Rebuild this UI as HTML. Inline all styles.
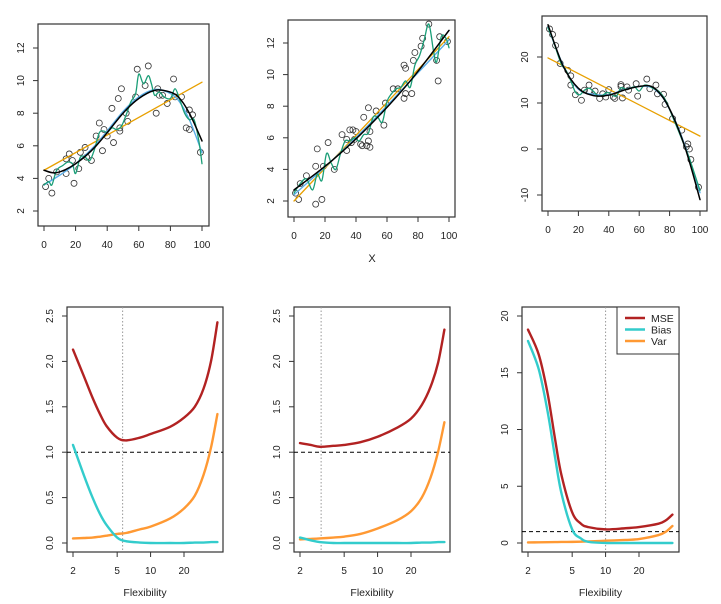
<!DOCTYPE html>
<html><head><meta charset="utf-8">
<style>
html,body{margin:0;padding:0;background:#fff;}
svg{display:block;font-family:"Liberation Sans",sans-serif;}
</style></head>
<body>
<svg id="fig" width="721" height="604" viewBox="0 0 721 604" xmlns="http://www.w3.org/2000/svg"></svg>
<script>
// ---------- Data: top row scatter panels ----------
const p1PointsX = [1,3,5,8,14,14,16,18,19,22,23,26,27,30,33,35,37,38,40,43,44,47,49,48,48,52,53,58,59,64,66,71,72,73,75,78,82,83,87,90,92,92,94,99];
const p1PointsY = [3.5,4.0,3.1,4.4,4.3,5.2,5.5,5.1,3.7,4.6,5.6,5.9,5.3,5.1,6.6,7.4,5.7,7.0,6.6,8.3,6.2,8.9,9.5,6.9,7.1,8.0,7.5,9.0,10.7,9.7,10.9,8.0,9.5,9.1,9.1,8.6,10.1,9.0,9.0,7.1,7.0,8.2,7.9,5.6];
const p1LinX = [0,100], p1LinY = [4.5,9.9];
const p1TrueX = [0,8,20,33,50,60,70,78,85,92,100];
const p1TrueY = [4.5,4.35,4.9,6.0,8.0,8.9,9.4,9.35,9.0,8.0,6.3];
const p1SmoothX = [0,10,20,33,50,60,70,78,85,92,100];
const p1SmoothY = [3.6,4.2,4.9,6.1,8.1,9.0,9.45,9.3,8.8,7.6,5.6];
const p1WigX = [0,3,5,8,12,15,18,20,23,26,29,32,35,38,40,43,46,49,52,55,58,60,63,66,68,70,73,76,80,83,86,89,92,95,98,100];
const p1WigY = [3.6,3.8,3.6,4.5,4.8,5.0,4.9,4.3,5.3,5.3,5.1,5.8,6.8,6.9,6.8,7.1,7.0,7.2,7.9,8.7,9.2,10.4,9.8,10.3,9.8,9.1,9.3,9.0,8.9,9.5,8.8,8.0,7.6,7.6,6.3,4.9];

const p2PointsX = [1,3,4,8,14,14,15,18,19,22,26,31,34,34,36,37,38,40,39,43,44,45,47,48,48,49,49,53,58,59,64,67,71,71,72,72,76,77,78,82,83,87,92,93,94,99];
const p2PointsY = [2.5,2.1,3.1,3.6,1.8,4.2,5.3,2.1,4.2,5.7,4.0,6.2,5.2,5.9,6.5,5.7,6.5,6.4,5.9,5.6,5.5,7.3,5.5,5.8,7.9,5.4,6.4,7.7,6.8,8.2,9.1,9.1,8.5,10.6,10.4,8.8,8.8,10.9,11.4,11.8,12.3,13.2,10.9,9.6,12.4,12.1];
const p2LinX = [0,100], p2LinY = [2.0,12.4];
const p2TrueX = [0,25,50,75,100], p2TrueY = [2.7,4.6,6.9,9.6,12.8];
const p2SmoothX = [0,25,50,75,100], p2SmoothY = [2.4,4.6,7.0,9.6,12.2];
const p2WigX = [0,4,8,12,15,18,21,24,27,30,33,36,39,42,45,48,51,54,57,60,63,66,69,72,75,78,81,84,87,90,92,95,98,100];
const p2WigY = [2.5,3.1,3.4,2.7,3.7,3.3,5.0,4.4,4.0,5.0,5.8,5.8,6.0,5.8,6.2,6.3,7.3,7.3,7.0,8.3,8.8,9.1,9.2,9.6,9.2,10.6,11.2,12.2,13.2,11.5,10.8,12.4,12.3,11.7];

const p3PointsX = [1,3,5,8,13,15,15,18,22,24,27,27,31,34,36,38,40,43,44,48,48,49,52,53,58,59,65,67,71,72,76,77,82,88,91,92,93,94,99];
const p3PointsY = [26.1,24.9,22.5,18.6,17.1,15.9,13.9,11.8,10.6,12.8,13.9,12.6,12.6,11.0,12.0,11.3,12.9,11.3,11.0,14.0,13.6,11.1,13.5,12.8,14.2,11.5,15.2,13.1,13.9,12.0,11.9,9.7,6.6,4.1,0.5,1.1,0.0,-2.3,-8.3];
const p3LinX = [0,100], p3LinY = [19.8,2.8];
const p3TrueX = [0,10,20,30,40,50,60,68,75,80,85,90,95,100];
const p3TrueY = [27,18,13.2,11.6,11.7,12.8,13.6,13.6,11.5,8.7,5,0.5,-5,-11];
const p3SmoothX = [0,10,20,30,40,50,60,68,75,80,85,90,95,100];
const p3SmoothY = [26.5,18.2,13.0,11.9,11.8,12.9,13.6,13.4,11.4,8.6,5.2,0.8,-4.2,-9.5];
const p3WigX = [0,3,6,9,12,15,18,21,24,27,30,33,36,39,42,45,48,51,54,57,60,63,66,69,72,75,78,82,86,90,93,96,100];
const p3WigY = [26.3,24,21,18.3,17,14.8,12.4,11.8,12.8,13.2,12.5,11.5,11.7,12.3,11.8,11.5,13.3,13.0,13.2,13.5,12.6,13.8,13.8,13.2,12.8,11.8,10.2,7,3.8,0.5,-2,-5,-9];

// ---------- Data: bottom row MSE / bias / variance ----------
const p4Flex = [2,2.5,3,3.5,4,5,6,8,10,15,20,25,30,35,40];
const p4Mse  = [2.13,1.84,1.6,1.42,1.29,1.16,1.13,1.16,1.2,1.28,1.38,1.5,1.7,2.0,2.43];
const p4Bias = [1.08,0.75,0.5,0.32,0.2,0.06,0.02,0.005,0,0,0,0.005,0.005,0.01,0.01];
const p4Var  = [0.05,0.055,0.06,0.07,0.08,0.1,0.11,0.15,0.18,0.27,0.38,0.52,0.75,1.05,1.42];
const p4Opt = 5.6;

const p5Flex = [2,2.5,3,4,5,7,10,15,20,25,30,35,40];
const p5Mse  = [1.10,1.08,1.06,1.07,1.08,1.11,1.17,1.27,1.37,1.52,1.72,1.98,2.35];
const p5Bias = [0.06,0.03,0.01,0,0,0,0,0,0,0.005,0.005,0.01,0.01];
const p5Var  = [0.04,0.045,0.05,0.06,0.07,0.1,0.16,0.25,0.35,0.5,0.72,1.0,1.33];
const p5Opt = 3.1;

const p6Flex = [2,2.5,3,3.5,4,5,6,7,10,15,20,30,35,40];
const p6Mse  = [18.8,16.6,13.2,9.2,6.0,2.7,1.7,1.4,1.2,1.3,1.4,1.7,2.0,2.5];
const p6Bias = [17.8,15.3,11.6,7.6,4.4,1.2,0.4,0.1,0,0,0,0,0,0];
const p6Var  = [0.05,0.06,0.07,0.08,0.09,0.1,0.12,0.14,0.2,0.27,0.35,0.7,1.0,1.5];
const p6Opt = 10;

const topXTicks = [0,20,40,60,80,100];
const p1YTicks = [2,4,6,8,10,12];
const p2YTicks = [2,4,6,8,10,12];
const p3YTicks = [-10,0,10,20];
const flexTicks = [2,5,10,20];
const p45YTicks = [0,0.5,1,1.5,2,2.5];
const p45YLabels = ["0.0","0.5","1.0","1.5","2.0","2.5"];
const p6YTicks = [0,5,10,15,20];
const legendLabels = ["MSE","Bias","Var"];

// ---------- Rendering ----------
const NS = "http://www.w3.org/2000/svg";
const svg = document.getElementById('fig');
function mk(tag, attrs, parent){
  const e = document.createElementNS(NS, tag);
  for (const k in attrs) e.setAttribute(k, attrs[k]);
  (parent||svg).appendChild(e);
  return e;
}
function lin(d0,p0,d1,p1){ return v => p0 + (v-d0)*(p1-p0)/(d1-d0); }
function logx(p2){ return v => p2 + 111*Math.log10(v/2); }
function crPath(pts){
  let d = "M"+pts[0][0].toFixed(2)+","+pts[0][1].toFixed(2);
  for (let i=0;i<pts.length-1;i++){
    const p0=pts[Math.max(0,i-1)], p1=pts[i], p2=pts[i+1], p3=pts[Math.min(pts.length-1,i+2)];
    const c1=[p1[0]+(p2[0]-p0[0])/6, p1[1]+(p2[1]-p0[1])/6];
    const c2=[p2[0]-(p3[0]-p1[0])/6, p2[1]-(p3[1]-p1[1])/6];
    d += " C"+c1[0].toFixed(2)+","+c1[1].toFixed(2)+" "+c2[0].toFixed(2)+","+c2[1].toFixed(2)+" "+p2[0].toFixed(2)+","+p2[1].toFixed(2);
  }
  return d;
}
function drawCurve(g, xs, ys, sx, sy, color, w, name){
  const pts = xs.map((x,i)=>[sx(x), sy(ys[i])]);
  const p = mk('path',{d:crPath(pts),fill:'none',stroke:color,'stroke-width':w,'stroke-linecap':'round'},g);
  
  
}
function axes(g, box, sx, sy, xt, xl, yt, yl, pname){
  const fr = mk('rect',{x:box[0],y:box[1],width:box[2]-box[0],height:box[3]-box[1],fill:'none',stroke:'#333','stroke-width':1.2},g);
  
  
  const xa = mk('g',{},g);
  
  
  mk('line',{x1:sx(xt[0]),x2:sx(xt[xt.length-1]),y1:box[3],y2:box[3],stroke:'#333'},xa);
  xt.forEach((t,i)=>{
    const x=sx(t);
    mk('line',{x1:x,x2:x,y1:box[3],y2:box[3]+5,stroke:'#333'},xa);
    const tx=mk('text',{x:x,y:box[3]+22,'text-anchor':'middle','font-size':10,fill:'#222'},xa);
    tx.textContent=xl[i];
    
    
  });
  const ya = mk('g',{},g);
  
  
  mk('line',{x1:box[0],x2:box[0],y1:sy(yt[0]),y2:sy(yt[yt.length-1]),stroke:'#333'},ya);
  yt.forEach((t,i)=>{
    const y=sy(t);
    mk('line',{x1:box[0]-5,x2:box[0],y1:y,y2:y,stroke:'#333'},ya);
    const lx=box[0]-14;
    const tx=mk('text',{x:lx,y:y,'text-anchor':'middle','font-size':10,fill:'#222',transform:'rotate(-90 '+lx+' '+y+')'},ya);
    tx.textContent=yl[i];
    
    
  });
}
function topPanel(pname, box, sx, sy, yt, px, py, lx, ly, tx, ty, smx, smy, wx, wy){
  const g = mk('g',{});
  
  
  axes(g, box, sx, sy, topXTicks, topXTicks.map(String), yt, yt.map(String), pname);
  px.forEach((x,i)=>{
    const c=mk('circle',{cx:sx(x),cy:sy(py[i]),r:3,fill:'none',stroke:'#333','stroke-width':0.8},g);
    
    
  });
  drawCurve(g, lx, ly, sx, sy, '#e8a000', 1.3, 'linear-fit');
  drawCurve(g, smx, smy, sx, sy, '#5aaee8', 1.4, 'smooth-fit');
  drawCurve(g, wx, wy, sx, sy, '#1a9e77', 1.3, 'wiggly-fit');
  drawCurve(g, tx, ty, sx, sy, '#000', 1.5, 'true-function');
}
function botPanel(pname, box, sx, sy, yt, yl, fx, mse, bias, vr, opt){
  const g = mk('g',{});
  
  
  axes(g, box, sx, sy, flexTicks, flexTicks.map(String), yt, yl, pname);
  const vl=mk('line',{x1:sx(opt),x2:sx(opt),y1:box[1],y2:box[3],stroke:'#999','stroke-dasharray':'1.5,2'},g);
  
  
  const hl=mk('line',{x1:box[0],x2:box[2],y1:sy(1),y2:sy(1),stroke:'#000','stroke-dasharray':'4,3'},g);
  
  
  drawCurve(g, fx, vr, sx, sy, '#ff9933', 2.4, 'variance-curve');
  drawCurve(g, fx, bias, sx, sy, '#33cccc', 2.4, 'bias-curve');
  drawCurve(g, fx, mse, sx, sy, '#b22222', 2.4, 'mse-curve');
  const t=mk('text',{x:(box[0]+box[2])/2,y:596,'text-anchor':'middle','font-size':10.5,fill:'#222'},g);
  t.textContent='Flexibility';
  
  
}

topPanel('panel-linear-ish', [38,24,209,226], lin(0,44,100,202), lin(2,211,12,48), p1YTicks,
  p1PointsX,p1PointsY,p1LinX,p1LinY,p1TrueX,p1TrueY,p1SmoothX,p1SmoothY,p1WigX,p1WigY);
topPanel('panel-near-linear', [288,20,455,217], lin(0,294,100,449), lin(2,201,12,43), p2YTicks,
  p2PointsX,p2PointsY,p2LinX,p2LinY,p2TrueX,p2TrueY,p2SmoothX,p2SmoothY,p2WigX,p2WigY);
topPanel('panel-nonlinear', [542,16,707,211], lin(0,548,100,700), lin(-10,195,20,57), p3YTicks,
  p3PointsX,p3PointsY,p3LinX,p3LinY,p3TrueX,p3TrueY,p3SmoothX,p3SmoothY,p3WigX,p3WigY);
const xt = mk('text',{x:372,y:262,'text-anchor':'middle','font-size':11,fill:'#222'});
xt.textContent='X';



botPanel('panel-bv-1', [67,307,223,552], logx(73), lin(0,543,2.5,316), p45YTicks, p45YLabels, p4Flex,p4Mse,p4Bias,p4Var,p4Opt);
botPanel('panel-bv-2', [294,307,450,552], logx(300), lin(0,543,2.5,316), p45YTicks, p45YLabels, p5Flex,p5Mse,p5Bias,p5Var,p5Opt);
botPanel('panel-bv-3', [522,307,679,552], logx(528), lin(0,543,20,316), p6YTicks, p6YTicks.map(String), p6Flex,p6Mse,p6Bias,p6Var,p6Opt);

// legend
const lg = mk('g',{});


mk('rect',{x:617,y:307,width:62,height:47,fill:'#fff',stroke:'#333','stroke-width':1},lg);
const legCols = ['#b22222','#33cccc','#ff9933'];
legendLabels.forEach((lab,i)=>{
  const y = 318 + i*11.5;
  const e = mk('g',{},lg);
  
  
  mk('line',{x1:625,x2:645,y1:y,y2:y,stroke:legCols[i],'stroke-width':2.4},e);
  const t = mk('text',{x:651,y:y+3.8,'font-size':10.5,fill:'#222'},e);
  t.textContent = lab;
});
</script>
</body></html>
